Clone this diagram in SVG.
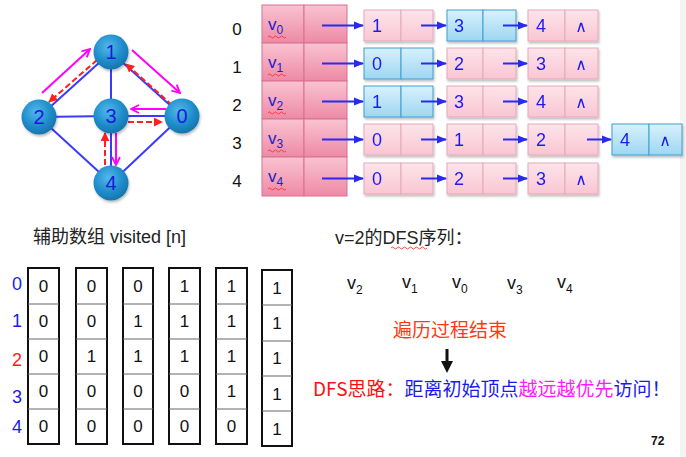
<svg xmlns="http://www.w3.org/2000/svg" width="686" height="457" viewBox="0 0 686 457">
<defs>
<radialGradient id="ball" cx="0.42" cy="0.35" r="0.7">
<stop offset="0" stop-color="#52b9ec"/>
<stop offset="0.6" stop-color="#1e8cca"/>
<stop offset="1" stop-color="#1570a8"/>
</radialGradient>
<linearGradient id="pink" x1="0" y1="0" x2="0" y2="1">
<stop offset="0" stop-color="#fde4ea"/>
<stop offset="1" stop-color="#f9c6d3"/>
</linearGradient>
<linearGradient id="blue" x1="0" y1="0" x2="0" y2="1">
<stop offset="0" stop-color="#d8f1fc"/>
<stop offset="1" stop-color="#9ed6f2"/>
</linearGradient>
<linearGradient id="head" x1="0" y1="0" x2="0" y2="1">
<stop offset="0" stop-color="#f9c3d2"/>
<stop offset="1" stop-color="#ee8aa6"/>
</linearGradient>
<filter id="sh" x="-20%" y="-20%" width="140%" height="150%">
<feDropShadow dx="1" dy="2" stdDeviation="1.2" flood-color="#000" flood-opacity="0.25"/>
</filter>
<marker id="mb" viewBox="0 0 10 10" refX="9" refY="5" markerWidth="5" markerHeight="5" orient="auto" markerUnits="strokeWidth">
<path d="M0,1 L10,5 L0,9 Z" fill="#2a2aee"/>
</marker>
<marker id="mm" viewBox="0 0 10 10" refX="9" refY="5" markerWidth="5" markerHeight="5" orient="auto" markerUnits="strokeWidth">
<path d="M1,1 L9,5 L1,9" fill="none" stroke="#ff00ff" stroke-width="1.8"/>
</marker>
<marker id="mr" viewBox="0 0 10 10" refX="9" refY="5" markerWidth="4.5" markerHeight="4.5" orient="auto" markerUnits="strokeWidth">
<path d="M0,0 L10,5 L0,10 Z" fill="#ff2020"/>
</marker>
</defs>
<style>
.edge{stroke:#3a3aff;stroke-width:2;fill:none}
.mag{stroke:#ff00ff;stroke-width:2;fill:none;marker-end:url(#mm)}
.red{stroke:#ff2020;stroke-width:2;fill:none;stroke-dasharray:6,3;marker-end:url(#mr)}
.ball{fill:url(#ball);filter:url(#sh)}
.blbl{font-family:"Liberation Sans",sans-serif;font-size:20px;fill:#1a1ad8;text-anchor:middle}
.hc{fill:url(#head);stroke:#d8708e;stroke-width:1}
.pn{fill:url(#pink);stroke:#e3a9ba;stroke-width:1}
.bn{fill:url(#blue);stroke:#3c9fcf;stroke-width:1}
.num{font-family:"Liberation Sans",sans-serif;font-size:18px;fill:#1a1aee;text-anchor:middle}
.nil{font-family:"DejaVu Sans",sans-serif;font-size:16px;fill:#1a1aee;text-anchor:middle}
.vi{font-family:"Liberation Sans",sans-serif;font-size:17px;fill:#2020c8}
.rl{font-family:"Liberation Sans",sans-serif;font-size:17px;fill:#111;text-anchor:middle}
.arr{stroke:#2a2aee;stroke-width:2;fill:none;marker-end:url(#mb)}
.wavy{stroke:#ff3030;stroke-width:0.9;fill:none}
.vbox{fill:#fff;stroke:#111;stroke-width:2}
.vdiv{stroke:#666;stroke-width:1}
.vt{font-family:"Liberation Sans",sans-serif;font-size:17px;fill:#111;text-anchor:middle}
.idx{font-family:"Liberation Sans",sans-serif;font-size:18px;text-anchor:middle}
.txt{font-family:"Liberation Sans","Noto Sans CJK SC",sans-serif;font-size:18px;fill:#222}
.seq{font-family:"Liberation Sans",sans-serif;font-size:18px;fill:#111}
.cjk{font-family:"Noto Sans CJK SC","Liberation Sans",sans-serif}
</style>
<rect width="686" height="457" fill="#fff"/>
<rect x="680" y="0" width="6" height="457" fill="#f4f4f4"/>

<!-- graph connectors -->
<g id="graph-connectors">
<line class="edge" x1="111" y1="52" x2="39" y2="117"/>
<line class="edge" x1="111" y1="52" x2="182" y2="116"/>
<line class="edge" x1="111" y1="52" x2="111" y2="116"/>
<line class="edge" x1="39" y1="117" x2="111" y2="116"/>
<line class="edge" x1="111" y1="116" x2="182" y2="116"/>
<line class="edge" x1="39" y1="117" x2="111" y2="183"/>
<line class="edge" x1="182" y1="116" x2="111" y2="183"/>
<line class="edge" x1="111" y1="116" x2="111" y2="183"/>
<line class="mag" x1="42" y1="93" x2="90" y2="49"/>
<line class="mag" x1="132" y1="50" x2="180" y2="93"/>
<line class="mag" x1="166" y1="109" x2="131" y2="109"/>
<line class="mag" x1="116" y1="133" x2="116" y2="165"/>
<line class="red" x1="97" y1="60" x2="49" y2="102"/>
<line class="red" x1="172" y1="105" x2="126" y2="64"/>
<line class="red" x1="128" y1="122" x2="162" y2="122"/>
<line class="red" x1="105" y1="165" x2="105" y2="133"/>
</g>

<g id="g-node-1"><circle class="ball" cx="111" cy="52" r="17.5"/><text class="blbl" x="111" y="59">1</text></g>
<g id="g-node-2"><circle class="ball" cx="39" cy="117" r="17.5"/><text class="blbl" x="39" y="124">2</text></g>
<g id="g-node-3"><circle class="ball" cx="111" cy="116" r="17.5"/><text class="blbl" x="111" y="123">3</text></g>
<g id="g-node-0"><circle class="ball" cx="182" cy="116" r="17.5"/><text class="blbl" x="182" y="123">0</text></g>
<g id="g-node-4"><circle class="ball" cx="111" cy="183" r="17.5"/><text class="blbl" x="111" y="190">4</text></g>

<!-- adjacency list heads -->
<g id="row-labels">
<text class="rl" x="237" y="35">0</text>
<text class="rl" x="237" y="73">1</text>
<text class="rl" x="237" y="111">2</text>
<text class="rl" x="237" y="149">3</text>
<text class="rl" x="237" y="187">4</text>
</g>
<g id="head-0"><rect class="hc" x="262" y="5" width="42" height="38"/><rect class="hc" x="304" y="5" width="43" height="38"/><text class="vi" x="268" y="30">v<tspan font-size="12" dy="4">0</tspan></text><path class="wavy" d="M268,37 q1.5,-2 3,0 t3,0 t3,0 t3,0 t3,0 t3,0"/></g>
<g id="head-1"><rect class="hc" x="262" y="43" width="42" height="38"/><rect class="hc" x="304" y="43" width="43" height="38"/><text class="vi" x="268" y="68">v<tspan font-size="12" dy="4">1</tspan></text><path class="wavy" d="M268,75 q1.5,-2 3,0 t3,0 t3,0 t3,0 t3,0 t3,0"/></g>
<g id="head-2"><rect class="hc" x="262" y="81" width="42" height="38"/><rect class="hc" x="304" y="81" width="43" height="38"/><text class="vi" x="268" y="106">v<tspan font-size="12" dy="4">2</tspan></text><path class="wavy" d="M268,113 q1.5,-2 3,0 t3,0 t3,0 t3,0 t3,0 t3,0"/></g>
<g id="head-3"><rect class="hc" x="262" y="119" width="42" height="38"/><rect class="hc" x="304" y="119" width="43" height="38"/><text class="vi" x="268" y="144">v<tspan font-size="12" dy="4">3</tspan></text><path class="wavy" d="M268,151 q1.5,-2 3,0 t3,0 t3,0 t3,0 t3,0 t3,0"/></g>
<g id="head-4"><rect class="hc" x="262" y="157" width="42" height="39"/><rect class="hc" x="304" y="157" width="43" height="39"/><text class="vi" x="268" y="182">v<tspan font-size="12" dy="4">4</tspan></text><path class="wavy" d="M268,189 q1.5,-2 3,0 t3,0 t3,0 t3,0 t3,0 t3,0"/></g>

<!-- list nodes -->
<g id="n-0-0" filter="url(#sh)"><rect class="pn" x="364" y="10" width="37" height="31"/><rect class="pn" x="401" y="10" width="32" height="31"/><text class="num" x="377" y="32">1</text></g>
<g id="n-0-1" filter="url(#sh)"><rect class="bn" x="447" y="10" width="36" height="31"/><rect class="bn" x="483" y="10" width="33" height="31"/><text class="num" x="459" y="32">3</text></g>
<g id="n-0-2" filter="url(#sh)"><rect class="pn" x="528" y="10" width="37" height="31"/><rect class="pn" x="565" y="10" width="33" height="31"/><text class="num" x="541" y="32">4</text><text class="nil" x="581" y="32">∧</text></g>

<g id="n-1-0" filter="url(#sh)"><rect class="bn" x="364" y="48" width="37" height="31"/><rect class="bn" x="401" y="48" width="32" height="31"/><text class="num" x="377" y="70">0</text></g>
<g id="n-1-1" filter="url(#sh)"><rect class="pn" x="447" y="48" width="36" height="31"/><rect class="pn" x="483" y="48" width="33" height="31"/><text class="num" x="459" y="70">2</text></g>
<g id="n-1-2" filter="url(#sh)"><rect class="pn" x="528" y="48" width="37" height="31"/><rect class="pn" x="565" y="48" width="33" height="31"/><text class="num" x="541" y="70">3</text><text class="nil" x="581" y="70">∧</text></g>

<g id="n-2-0" filter="url(#sh)"><rect class="bn" x="364" y="86" width="37" height="31"/><rect class="bn" x="401" y="86" width="32" height="31"/><text class="num" x="377" y="108">1</text></g>
<g id="n-2-1" filter="url(#sh)"><rect class="pn" x="447" y="86" width="36" height="31"/><rect class="pn" x="483" y="86" width="33" height="31"/><text class="num" x="459" y="108">3</text></g>
<g id="n-2-2" filter="url(#sh)"><rect class="pn" x="528" y="86" width="37" height="31"/><rect class="pn" x="565" y="86" width="33" height="31"/><text class="num" x="541" y="108">4</text><text class="nil" x="581" y="108">∧</text></g>

<g id="n-3-0" filter="url(#sh)"><rect class="pn" x="364" y="124" width="37" height="31"/><rect class="pn" x="401" y="124" width="32" height="31"/><text class="num" x="377" y="146">0</text></g>
<g id="n-3-1" filter="url(#sh)"><rect class="pn" x="447" y="124" width="36" height="31"/><rect class="pn" x="483" y="124" width="33" height="31"/><text class="num" x="459" y="146">1</text></g>
<g id="n-3-2" filter="url(#sh)"><rect class="pn" x="528" y="124" width="37" height="31"/><rect class="pn" x="565" y="124" width="33" height="31"/><text class="num" x="541" y="146">2</text></g>
<g id="n-3-3" filter="url(#sh)"><rect class="bn" x="612" y="124" width="37" height="31"/><rect class="bn" x="649" y="124" width="33" height="31"/><text class="num" x="625" y="146">4</text><text class="nil" x="665" y="146">∧</text></g>

<g id="n-4-0" filter="url(#sh)"><rect class="pn" x="364" y="163" width="37" height="31"/><rect class="pn" x="401" y="163" width="32" height="31"/><text class="num" x="377" y="185">0</text></g>
<g id="n-4-1" filter="url(#sh)"><rect class="pn" x="447" y="163" width="36" height="31"/><rect class="pn" x="483" y="163" width="33" height="31"/><text class="num" x="459" y="185">2</text></g>
<g id="n-4-2" filter="url(#sh)"><rect class="pn" x="528" y="163" width="37" height="31"/><rect class="pn" x="565" y="163" width="33" height="31"/><text class="num" x="541" y="185">3</text><text class="nil" x="581" y="185">∧</text></g>

<g id="list-connectors">
<line class="arr" x1="322" y1="25.5" x2="363" y2="25.5"/>
<line class="arr" x1="421" y1="25.5" x2="446" y2="25.5"/>
<line class="arr" x1="503" y1="25.5" x2="527" y2="25.5"/>
<line class="arr" x1="322" y1="63.5" x2="363" y2="63.5"/>
<line class="arr" x1="421" y1="63.5" x2="446" y2="63.5"/>
<line class="arr" x1="503" y1="63.5" x2="527" y2="63.5"/>
<line class="arr" x1="322" y1="101.5" x2="363" y2="101.5"/>
<line class="arr" x1="421" y1="101.5" x2="446" y2="101.5"/>
<line class="arr" x1="503" y1="101.5" x2="527" y2="101.5"/>
<line class="arr" x1="322" y1="139.5" x2="363" y2="139.5"/>
<line class="arr" x1="421" y1="139.5" x2="446" y2="139.5"/>
<line class="arr" x1="503" y1="139.5" x2="527" y2="139.5"/>
<line class="arr" x1="587" y1="139.5" x2="611" y2="139.5"/>
<line class="arr" x1="322" y1="178.5" x2="363" y2="178.5"/>
<line class="arr" x1="421" y1="178.5" x2="446" y2="178.5"/>
<line class="arr" x1="503" y1="178.5" x2="527" y2="178.5"/>
</g>

<!-- visited arrays -->
<text class="txt" x="33" y="243"><tspan class="cjk">辅助数组</tspan> visited [n]</text>
<g id="visited-index">
<text class="idx" x="17" y="290" fill="#1a1aee">0</text>
<text class="idx" x="17" y="327" fill="#1a1aee">1</text>
<text class="idx" x="17" y="366" fill="#ff1a1a">2</text>
<text class="idx" x="17" y="403" fill="#1a1aee">3</text>
<text class="idx" x="17" y="433" fill="#1a1aee">4</text>
</g>
<g id="visited-1">
<rect class="vbox" x="28" y="268" width="31" height="176"/>
<line class="vdiv" x1="28" y1="304" x2="59" y2="304"/><line class="vdiv" x1="28" y1="339" x2="59" y2="339"/><line class="vdiv" x1="28" y1="374" x2="59" y2="374"/><line class="vdiv" x1="28" y1="409" x2="59" y2="409"/>
<text class="vt" x="43.5" y="292">0</text><text class="vt" x="43.5" y="327">0</text><text class="vt" x="43.5" y="362">0</text><text class="vt" x="43.5" y="397">0</text><text class="vt" x="43.5" y="432">0</text>
</g>
<g id="visited-2">
<rect class="vbox" x="76" y="268" width="31" height="176"/>
<line class="vdiv" x1="76" y1="304" x2="107" y2="304"/><line class="vdiv" x1="76" y1="339" x2="107" y2="339"/><line class="vdiv" x1="76" y1="374" x2="107" y2="374"/><line class="vdiv" x1="76" y1="409" x2="107" y2="409"/>
<text class="vt" x="91.5" y="292" fill="#4a5a6a">0</text><text class="vt" x="91.5" y="327">0</text><text class="vt" x="91.5" y="362">1</text><text class="vt" x="91.5" y="397">0</text><text class="vt" x="91.5" y="432">0</text>
</g>
<g id="visited-3">
<rect class="vbox" x="123" y="268" width="30" height="176"/>
<line class="vdiv" x1="123" y1="304" x2="153" y2="304"/><line class="vdiv" x1="123" y1="339" x2="153" y2="339"/><line class="vdiv" x1="123" y1="374" x2="153" y2="374"/><line class="vdiv" x1="123" y1="409" x2="153" y2="409"/>
<text class="vt" x="138" y="292">0</text><text class="vt" x="138" y="327">1</text><text class="vt" x="138" y="362">1</text><text class="vt" x="138" y="397">0</text><text class="vt" x="138" y="432">0</text>
</g>
<g id="visited-4">
<rect class="vbox" x="169" y="268" width="31" height="176"/>
<line class="vdiv" x1="169" y1="304" x2="200" y2="304"/><line class="vdiv" x1="169" y1="339" x2="200" y2="339"/><line class="vdiv" x1="169" y1="374" x2="200" y2="374"/><line class="vdiv" x1="169" y1="409" x2="200" y2="409"/>
<text class="vt" x="184.5" y="292">1</text><text class="vt" x="184.5" y="327">1</text><text class="vt" x="184.5" y="362">1</text><text class="vt" x="184.5" y="397">0</text><text class="vt" x="184.5" y="432">0</text>
</g>
<g id="visited-5">
<rect class="vbox" x="216" y="268" width="31" height="176"/>
<line class="vdiv" x1="216" y1="304" x2="247" y2="304"/><line class="vdiv" x1="216" y1="339" x2="247" y2="339"/><line class="vdiv" x1="216" y1="374" x2="247" y2="374"/><line class="vdiv" x1="216" y1="409" x2="247" y2="409"/>
<text class="vt" x="231.5" y="292">1</text><text class="vt" x="231.5" y="327">1</text><text class="vt" x="231.5" y="362">1</text><text class="vt" x="231.5" y="397">1</text><text class="vt" x="231.5" y="432">0</text>
</g>
<g id="visited-6">
<rect class="vbox" x="262" y="270" width="30" height="176"/>
<line class="vdiv" x1="262" y1="305" x2="292" y2="305"/><line class="vdiv" x1="262" y1="341" x2="292" y2="341"/><line class="vdiv" x1="262" y1="376" x2="292" y2="376"/><line class="vdiv" x1="262" y1="411" x2="292" y2="411"/>
<text class="vt" x="277" y="294">1</text><text class="vt" x="277" y="329">1</text><text class="vt" x="277" y="364">1</text><text class="vt" x="277" y="400">1</text><text class="vt" x="277" y="435">1</text>
</g>

<!-- right text -->
<g id="dfs-title">
<text class="txt" x="335" y="244">v=2<tspan class="cjk">的</tspan>DFS<tspan class="cjk">序列：</tspan></text>
<path class="wavy" d="M391,248 q1.5,-2 3,0 t3,0 t3,0 t3,0 t3,0 t3,0 t3,0 t3,0 t3,0 t3,0 t3,0 t3,0"/>
</g>
<g id="dfs-seq">
<text class="seq" x="347" y="289">v<tspan font-size="12" dy="5">2</tspan></text>
<text class="seq" x="402" y="288">v<tspan font-size="12" dy="5">1</tspan></text>
<text class="seq" x="452" y="288">v<tspan font-size="12" dy="5">0</tspan></text>
<text class="seq" x="507" y="289">v<tspan font-size="12" dy="5">3</tspan></text>
<text class="seq" x="557" y="288">v<tspan font-size="12" dy="5">4</tspan></text>
</g>
<g id="end-note">
<text class="cjk" x="393" y="337" font-size="19" fill="#ff3a10">遍历过程结束</text>
<rect x="445.5" y="349" width="3" height="14" fill="#111"/>
<path d="M441,361 L453,361 L447,373 Z" fill="#111"/>
</g>
<g id="dfs-idea">
<text class="cjk" x="313" y="396" font-size="19"><tspan fill="#ff1010">DFS思路：</tspan><tspan fill="#1a1aee">距离初始顶点</tspan><tspan fill="#ff1aff">越远越优先</tspan><tspan fill="#1a1aee">访问！</tspan></text>
</g>
<text x="651" y="445" font-family="Liberation Sans, sans-serif" font-size="12" font-weight="bold" fill="#111">72</text>
</svg>
